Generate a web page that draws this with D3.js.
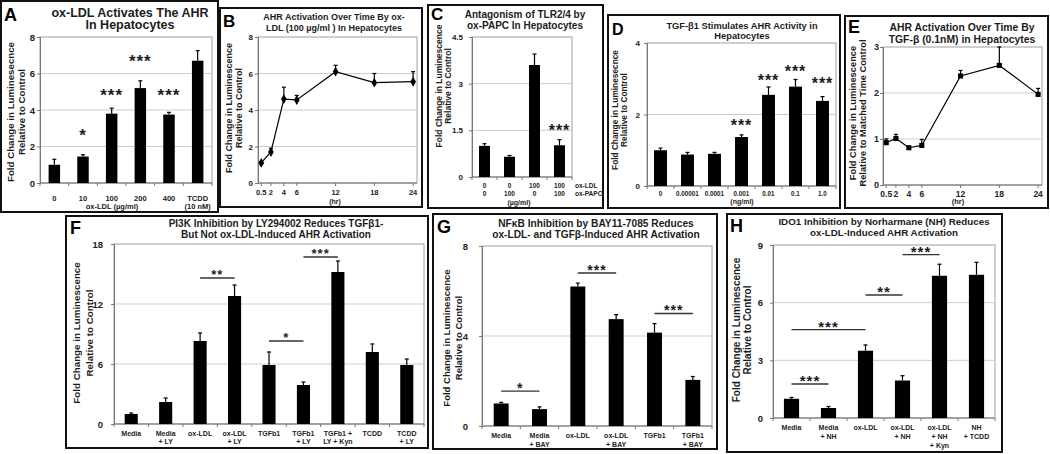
<!DOCTYPE html>
<html>
<head>
<meta charset="utf-8">
<script src="https://cdn.jsdelivr.net/npm/d3@7"></script>
<style>
body { margin: 0; background: #fff; }
svg text { font-family: "Liberation Sans", Arial, sans-serif; font-weight: bold; fill: #1c1c1c; }
</style>
</head>
<body>
<div id="chart"></div>
<script>
// ---- data ----
var aCats = ['0', '10', '100', '200', '400', 'TCDD\n(10 nM)'];
var aVals = [1.0, 1.45, 3.8, 5.2, 3.75, 6.7];
var aErr = [0.3, 0.1, 0.3, 0.4, 0.12, 0.55];
var aTicks = [0, 2, 4, 6, 8];
var aStars = [{i: 1, v: 2.8, s: '*'}, {i: 2, v: 5.0, s: '***'}, {i: 3, v: 6.9, s: '***'}, {i: 4, v: 5.0, s: '***'}];

var bHours = [0.5, 2, 4, 6, 12, 18, 24];
var bVals = [1.1, 1.7, 4.6, 4.55, 6.1, 5.5, 5.55];
var bErr = [0.05, 0.2, 0.65, 0.25, 0.35, 0.5, 0.55];
var bTicks = [0, 2, 4, 6, 8];

var cCats = ['0\n0', '0\n100', '100\n0', '100\n100'];
var cVals = [1.0, 0.65, 3.6, 1.02];
var cErr = [0.07, 0.04, 0.35, 0.18];
var cTicks = [0, 1.5, 3, 4.5];
var cStars = [{i: 3, v: 1.6, s: '***'}];

var dCats = ['0', '0.00001', '0.0001', '0.001', '0.01', '0.1', '1.0'];
var dVals = [1.0, 0.88, 0.9, 1.37, 2.55, 2.78, 2.38];
var dErr = [0.06, 0.06, 0.04, 0.06, 0.22, 0.2, 0.12];
var dTicks = [0, 2, 4];
var dStars = [{i: 3, v: 1.8, s: '***'}, {i: 4, v: 3.05, s: '***'}, {i: 5, v: 3.3, s: '***'}, {i: 6, v: 2.97, s: '***'}];

var eHours = [0.5, 2, 4, 6, 12, 18, 24];
var eVals = [0.92, 1.01, 0.81, 0.86, 2.37, 2.6, 1.97];
var eErr = [0.08, 0.09, 0.03, 0.13, 0.12, 0.45, 0.13];
var eTicks = [0, 1, 2, 3];

var fCats = ['Media', 'Media\n+ LY', 'ox-LDL', 'ox-LDL\n+ LY', 'TGFb1', 'TGFb1\n+ LY', 'TGFb1 +\nLY + Kyn', 'TCDD', 'TCDD\n+ LY'];
var fVals = [1.0, 2.2, 8.3, 12.8, 5.9, 3.9, 15.2, 7.2, 5.9];
var fErr = [0.1, 0.4, 0.8, 1.1, 1.3, 0.3, 1.1, 0.8, 0.6];
var fTicks = [0, 6, 12, 18];
var fSig = [{i0: 2, i1: 3, v: 14.6, s: '**'}, {i0: 4, i1: 5, v: 8.3, s: '*'}, {i0: 5, i1: 6, v: 16.7, s: '***'}];

var gCats = ['Media', 'Media\n+ BAY', 'ox-LDL', 'ox-LDL\n+ BAY', 'TGFb1', 'TGFb1\n+ BAY'];
var gVals = [1.0, 0.75, 6.2, 4.75, 4.15, 2.05];
var gErr = [0.05, 0.1, 0.15, 0.2, 0.4, 0.15];
var gTicks = [0, 4, 8];
var gSig = [{i0: 0, i1: 1, v: 1.55, s: '*'}, {i0: 2, i1: 3, v: 6.8, s: '***'}, {i0: 4, i1: 5, v: 5.0, s: '***'}];

var hCats = ['Media', 'Media\n+ NH', 'ox-LDL', 'ox-LDL\n+ NH', 'ox-LDL\n+ NH\n+ Kyn', 'NH\n+ TCDD'];
var hVals = [1.0, 0.52, 3.5, 1.95, 7.4, 7.45];
var hErr = [0.07, 0.08, 0.3, 0.25, 0.6, 0.65];
var hTicks = [0, 3, 6, 9];
var hSig = [{i0: 0, i1: 1, v: 1.77, s: '***'}, {i0: 0, i1: 2, v: 4.6, s: '***'}, {i0: 2, i1: 3, v: 6.4, s: '**'}, {i0: 3, i1: 4, v: 8.5, s: '***'}];

var hourTicks = [0.5, 2, 4, 6, 12, 18, 24];

var svg = d3.select('#chart').append('svg')
    .attr('width', 1050)
    .attr('height', 454);

svg.append('rect').attr('width', 1050).attr('height', 454).attr('fill', '#fff');

function frame(x0, y0, x1, y1, letter, lx, ly, lfs) {
  svg.append('rect')
      .attr('x', x0).attr('y', y0)
      .attr('width', x1 - x0).attr('height', y1 - y0)
      .attr('fill', 'none')
      .attr('stroke', '#111')
      .attr('stroke-width', 2);
  svg.append('text')
      .attr('x', lx).attr('y', ly)
      .style('font-size', lfs + 'px')
      .style('fill', '#000')
      .text(letter);
}

function title(lines, cx, ys, fs) {
  lines.forEach(function(s, i) {
    svg.append('text')
        .attr('x', cx).attr('y', ys[i])
        .attr('text-anchor', 'middle')
        .style('font-size', fs + 'px')
        .text(s);
  });
}

function ylab(lines, xs, cy, fs) {
  lines.forEach(function(s, i) {
    svg.append('text')
        .attr('transform', 'translate(' + xs[i] + ',' + cy + ') rotate(-90)')
        .attr('text-anchor', 'middle')
        .attr('dominant-baseline', 'central')
        .style('font-size', fs + 'px')
        .text(s);
  });
}

function note(s, x, y, fs, anchor) {
  svg.append('text')
      .attr('x', x).attr('y', y)
      .attr('text-anchor', anchor || 'middle')
      .style('font-size', fs + 'px')
      .text(s);
}

function stars(g, x, yc, s, fs) {
  g.append('text')
      .attr('x', x).attr('y', yc + 0.56 * fs)
      .attr('text-anchor', 'middle')
      .style('font-size', fs + 'px')
      .style('letter-spacing', '1px')
      .text(s);
}

// plot area, grid and y axis shared by all panels
function plotBase(o, y) {
  var g = svg.append('g');
  g.append('rect')
      .attr('x', o.l).attr('y', o.t)
      .attr('width', o.r - o.l).attr('height', o.b - o.t)
      .attr('fill', 'none')
      .attr('stroke', '#a0a0a0');
  g.selectAll('.grid')
      .data(o.ticks.filter(function(d) { return d > 0 && d < o.ymax; }))
    .enter().append('line')
      .attr('x1', o.l).attr('x2', o.r)
      .attr('y1', y).attr('y2', y)
      .attr('stroke', '#cdcdcd');
  var ya = g.append('g')
      .attr('transform', 'translate(' + o.l + ',0)')
      .call(d3.axisLeft(y).tickValues(o.ticks).tickSize(3).tickPadding(o.pad).tickFormat(d3.format('')));
  ya.select('.domain').attr('stroke', '#777');
  ya.selectAll('.tick line').attr('stroke', '#777');
  ya.selectAll('.tick text').style('font-size', o.yfs + 'px').style('fill', '#222');
  g.append('line')
      .attr('x1', o.l).attr('x2', o.r)
      .attr('y1', o.b).attr('y2', o.b)
      .attr('stroke', '#777');
  return g;
}

function errBar(g, cx, y0, y1) {
  g.append('line').attr('x1', cx).attr('x2', cx).attr('y1', y0).attr('y2', y1)
      .attr('stroke', '#000').attr('stroke-width', 1.2);
  g.append('line').attr('x1', cx - 2).attr('x2', cx + 2).attr('y1', y1).attr('y2', y1)
      .attr('stroke', '#000').attr('stroke-width', 1.2);
}

function barPanel(o) {
  var x = d3.scaleBand().domain(d3.range(o.vals.length)).range([o.l, o.r]);
  var y = d3.scaleLinear().domain([0, o.ymax]).range([o.b, o.t]);
  var g = plotBase(o, y);
  var bw = x.bandwidth() * o.bw;
  var cx = function(i) { return x(i) + x.bandwidth() / 2; };

  // category tick marks between bars
  d3.range(o.vals.length + 1).forEach(function(i) {
    var xx = i < o.vals.length ? x(i) : o.r;
    g.append('line').attr('x1', xx).attr('x2', xx).attr('y1', o.b).attr('y2', o.b + 3).attr('stroke', '#777');
  });

  g.selectAll('.bar')
      .data(o.vals)
    .enter().append('rect')
      .attr('x', function(d, i) { return cx(i) - bw / 2; })
      .attr('y', y)
      .attr('width', bw)
      .attr('height', function(d) { return o.b - y(d); })
      .attr('fill', '#000');

  o.vals.forEach(function(d, i) {
    errBar(g, cx(i), y(d), y(d + o.errs[i]));
    o.cats[i].split('\n').forEach(function(s, k) {
      g.append('text')
          .attr('x', cx(i)).attr('y', o.rows[k])
          .attr('text-anchor', 'middle')
          .style('font-size', o.xfs + 'px')
          .style('fill', '#222')
          .text(s);
    });
  });

  (o.stars || []).forEach(function(s) {
    stars(g, cx(s.i), y(s.v), s.s, o.sfs);
  });

  (o.sig || []).forEach(function(s) {
    g.append('line')
        .attr('x1', cx(s.i0)).attr('x2', cx(s.i1))
        .attr('y1', y(s.v)).attr('y2', y(s.v))
        .attr('stroke', '#333').attr('stroke-width', 1.4);
    stars(g, (cx(s.i0) + cx(s.i1)) / 2, y(s.v) - 6, s.s, o.sfs);
  });
}

function linePanel(o) {
  var x = d3.scaleLinear().domain([0, 24.6]).range([o.l, o.r]);
  var y = d3.scaleLinear().domain([0, o.ymax]).range([o.b, o.t]);
  var g = plotBase(o, y);

  hourTicks.forEach(function(h) {
    g.append('line').attr('x1', x(h)).attr('x2', x(h)).attr('y1', o.b).attr('y2', o.b + 3).attr('stroke', '#777');
    g.append('text')
        .attr('x', x(h)).attr('y', o.xrow)
        .attr('text-anchor', 'middle')
        .style('font-size', o.xfs + 'px')
        .style('fill', '#222')
        .text(h);
  });

  o.vals.forEach(function(d, i) {
    errBar(g, x(o.hours[i]), y(d), Math.max(o.t, y(d + o.errs[i])));
  });

  var line = d3.line()
      .x(function(d, i) { return x(o.hours[i]); })
      .y(function(d) { return y(d); });

  g.append('path')
      .datum(o.vals)
      .attr('d', line)
      .attr('fill', 'none')
      .attr('stroke', '#000')
      .attr('stroke-width', 1.2);

  g.selectAll('.pt')
      .data(o.vals)
    .enter().append('path')
      .attr('transform', function(d, i) { return 'translate(' + x(o.hours[i]) + ',' + y(d) + ')'; })
      .attr('d', d3.symbol().type(o.sym).size(o.ss))
      .attr('fill', '#000');
}

// ---- A ----
frame(1, 1, 218, 212, 'A', 4, 21, 18);
title(['ox-LDL Activates The AHR', 'In Hepatocytes'], 130, [17, 29], 12.5);
ylab(['Fold Change in Luminesecnce', 'Relative to Control'], [10, 21], 112, 9.7);
barPanel({l: 40, t: 37, r: 212, b: 183, ymax: 8, ticks: aTicks, pad: 2, yfs: 9.5,
  cats: aCats, vals: aVals, errs: aErr, bw: 0.4, rows: [201, 209], xfs: 7.5,
  stars: aStars, sfs: 17});
note('ox-LDL (\u00b5g/ml)', 112, 209, 7.5);

// ---- B ----
frame(220, 8, 422, 207, 'B', 223, 27, 17);
title(['AHR Activation Over Time By ox-', 'LDL (100 \u00b5g/ml ) In Hepatocytes'], 334, [20, 31], 9);
ylab(['Fold Change in Luminescence', 'Relative to Control'], [228.5, 238.5], 108, 9);
linePanel({l: 258, t: 37, r: 417, b: 183, ymax: 8, ticks: bTicks, pad: 2, yfs: 8,
  hours: bHours, vals: bVals, errs: bErr, xrow: 195, xfs: 7.5, sym: d3.symbolDiamond, ss: 28});
note('(hr)', 335, 204, 7);

// ---- C ----
frame(428, 5, 603, 208, 'C', 431, 20, 17);
title(['Antagonism of TLR2/4 by', 'ox-PAPC In Hepatocytes'], 525, [18, 29], 10);
ylab(['Fold Change in Luminescence', 'Relative to Control'], [439, 448], 86, 8.5);
barPanel({l: 472, t: 37, r: 572, b: 177, ymax: 4.5, ticks: cTicks, pad: 6, yfs: 8,
  cats: cCats, vals: cVals, errs: cErr, bw: 0.44, rows: [188, 196], xfs: 6.5,
  stars: cStars, sfs: 16});
note('ox-LDL', 575, 188, 6.5, 'start');
note('ox-PAPC', 575, 196, 6.5, 'start');
note('(\u00b5g/ml)', 519, 205, 7);

// ---- D ----
frame(608, 15, 840, 208, 'D', 612, 35, 16);
title(['TGF-\u03b21 Stimulates AHR Activity in', 'Hepatocytes'], 742, [29, 39], 9.3);
ylab(['Fold Change in Luminesecnce', 'Relative to Control'], [615, 624], 110, 8.3);
barPanel({l: 647, t: 43, r: 836, b: 186, ymax: 4, ticks: dTicks, pad: 4, yfs: 8,
  cats: dCats, vals: dVals, errs: dErr, bw: 0.48, rows: [196], xfs: 6.3,
  stars: dStars, sfs: 16});
note('(ng/ml)', 742, 204, 7);

// ---- E ----
frame(845, 16, 1048, 208, 'E', 848, 33, 18);
title(['AHR Activation Over Time By', 'TGF-\u03b2 (0.1nM) in Hepatocytes'], 962, [31, 43], 10.4);
ylab(['Fold Change in Luminescence', 'Relative to Matched Time Control'], [853, 863], 113, 9.3);
linePanel({l: 883, t: 47, r: 1042, b: 185, ymax: 3, ticks: eTicks, pad: 1, yfs: 9,
  hours: eHours, vals: eVals, errs: eErr, xrow: 197, xfs: 8.5, sym: d3.symbolSquare, ss: 26});
note('(hr)', 958, 204, 7.5);

// ---- F ----
frame(66, 216, 428, 448, 'F', 70, 234, 18);
title(['PI3K Inhibition by LY294002 Reduces TGF\u03b21-', 'But Not ox-LDL-Induced AHR Activation'], 276, [227, 238], 10);
ylab(['Fold Change in Luminescence', 'Relative to Control'], [76, 89], 333, 9.8);
barPanel({l: 114, t: 244, r: 424, b: 424, ymax: 18, ticks: fTicks, pad: 8, yfs: 9.5,
  cats: fCats, vals: fVals, errs: fErr, bw: 0.38, rows: [436, 444], xfs: 7,
  sig: fSig, sfs: 13});

// ---- G ----
frame(433, 214, 717, 449, 'G', 437, 233, 18);
title(['NF\u03baB Inhibition by BAY11-7085 Reduces', 'ox-LDL- and TGF\u03b2-Induced AHR Activation'], 596, [227, 238], 10.2);
ylab(['Fold Change in Luminescence', 'Relative to Control'], [446, 458], 338, 9.5);
barPanel({l: 482, t: 246, r: 712, b: 426, ymax: 8, ticks: gTicks, pad: 11, yfs: 9.5,
  cats: gCats, vals: gVals, errs: gErr, bw: 0.39, rows: [438, 447], xfs: 7,
  sig: gSig, sfs: 14});

// ---- H ----
frame(727, 214, 1002, 452, 'H', 730, 232, 18);
title(['IDO1 Inhibition by Norharmane (NH) Reduces', 'ox-LDL-Induced AHR Activation'], 884, [225, 236], 9.8);
ylab(['Fold Change in Luminescence', 'Relative to Control'], [736, 747], 330, 10);
barPanel({l: 773, t: 245, r: 995, b: 418, ymax: 9, ticks: hTicks, pad: 7, yfs: 9.5,
  cats: hCats, vals: hVals, errs: hErr, bw: 0.41, rows: [430, 439, 448], xfs: 7,
  sig: hSig, sfs: 15});
</script>
</body>
</html>
